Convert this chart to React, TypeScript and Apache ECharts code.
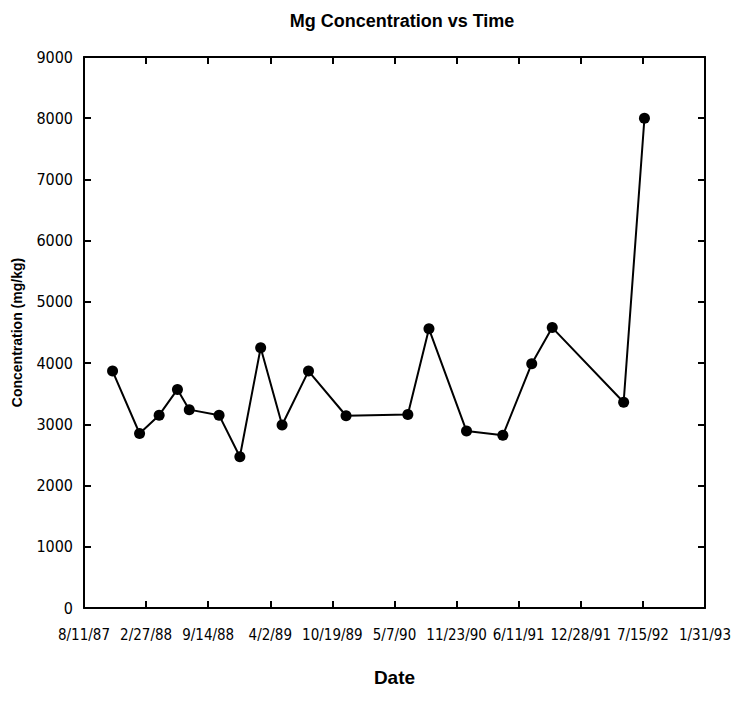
import React, { useEffect, useRef } from "react";
import * as echarts from "echarts";

const sampleDates = [
  "11/11/87", "2/6/88", "4/9/88", "6/7/88", "7/15/88", "10/19/88", "12/25/88",
  "3/2/89", "5/10/89", "8/3/89", "12/2/89", "6/19/90", "8/26/90", "12/25/90",
  "4/21/91", "7/23/91", "9/27/91", "5/14/92", "7/20/92",
];
const mgValues = [
  3870, 2850, 3150, 3570, 3240, 3150, 2470, 4250, 2990, 3870, 3140, 3160, 4560,
  2890, 2820, 3990, 4580, 3360, 8000,
];
const yTicks = [0, 1000, 2000, 3000, 4000, 5000, 6000, 7000, 8000, 9000];
const xStart = "8/11/87";
const xSpanDays = 2000;
const xStepDays = 200;

const DAY = 86400000;
function parseDate(s: string): number {
  const [m, d, y] = s.split("/").map(Number);
  return Date.UTC(1900 + y, m - 1, d);
}
const t0 = parseDate(xStart);
function toDays(s: string): number {
  return Math.round((parseDate(s) - t0) / DAY);
}
function fmtDays(v: number): string {
  const dt = new Date(t0 + Math.round(v) * DAY);
  const yy = String(dt.getUTCFullYear() % 100).padStart(2, "0");
  return `${dt.getUTCMonth() + 1}/${dt.getUTCDate()}/${yy}`;
}

const FONT = "'Liberation Sans Narrow', 'DejaVu Sans Condensed', 'Liberation Sans', Arial, sans-serif";
const FONT_B = "'Liberation Sans', Arial, sans-serif";

export default function App() {
  const ref = useRef<HTMLDivElement>(null);
  useEffect(() => {
    if (!ref.current) return;
    const chart = echarts.init(ref.current, null, { renderer: "svg" });
    const data = sampleDates.map((d, i) => [toDays(d), mgValues[i]]);
    const axisLine = { show: true, onZero: false, lineStyle: { color: "#000", width: 2 } };
    const axisTick = { show: true, inside: true, length: 7, lineStyle: { color: "#000", width: 2 } };
    chart.setOption({
      animation: false,
      backgroundColor: "#fff",
      title: {
        text: "Mg Concentration vs Time",
        left: 397,
        textAlign: "center",
        top: 7,
        textStyle: { fontFamily: FONT_B, fontSize: 18, fontWeight: "bold", color: "#000" },
      },
      grid: { left: 84, right: 25, top: 57, bottom: 104 },
      xAxis: [
        {
          type: "value",
          min: 0,
          max: xSpanDays,
          interval: xStepDays,
          axisLine,
          axisTick,
          splitLine: { show: false },
          axisLabel: {
            formatter: (v: number) => fmtDays(v),
            color: "#000",
            fontFamily: FONT,
            fontSize: 15,
            margin: 19,
          },
          name: "Date",
          nameLocation: "middle",
          nameGap: 60,
          nameTextStyle: { fontFamily: FONT_B, fontSize: 19, fontWeight: "bold", color: "#000" },
        },
        {
          type: "value",
          position: "top",
          min: 0,
          max: xSpanDays,
          interval: xStepDays,
          axisLine,
          axisTick,
          splitLine: { show: false },
          axisLabel: { show: false },
        },
      ],
      yAxis: [
        {
          type: "value",
          min: yTicks[0],
          max: yTicks[yTicks.length - 1],
          interval: yTicks[1] - yTicks[0],
          axisLine,
          axisTick,
          splitLine: { show: false },
          axisLabel: {
            formatter: (v: number) => String(v),
            color: "#000",
            fontFamily: FONT,
            fontSize: 16,
            margin: 11,
          },
          name: "Concentration (mg/kg)",
          nameLocation: "middle",
          nameGap: 60,
          nameTextStyle: { fontFamily: FONT_B, fontSize: 14, fontWeight: "bold", color: "#000" },
        },
        {
          type: "value",
          position: "right",
          min: yTicks[0],
          max: yTicks[yTicks.length - 1],
          interval: yTicks[1] - yTicks[0],
          axisLine,
          axisTick,
          splitLine: { show: false },
          axisLabel: { show: false },
        },
      ],
      series: [
        {
          type: "line",
          data,
          symbol: "circle",
          symbolSize: 11,
          lineStyle: { color: "#000", width: 2 },
          itemStyle: { color: "#000" },
        },
      ],
    });
    return () => chart.dispose();
  }, []);
  return (
    <div
      ref={ref}
      style={{ position: "fixed", left: 0, top: 0, width: 734, height: 712 }}
    />
  );
}
